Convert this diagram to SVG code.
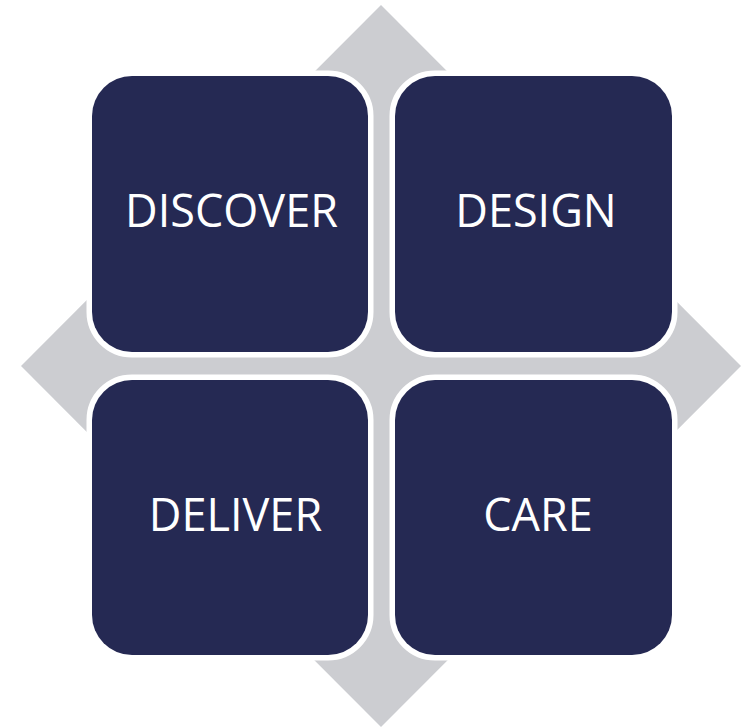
<svg xmlns="http://www.w3.org/2000/svg" width="741" height="727" viewBox="0 0 741 727">
<style>
.box{fill:#252953;stroke:#ffffff;stroke-width:11;paint-order:stroke}
.lbl{fill:#ffffff;font-family:"Open Sans","Liberation Sans",sans-serif;font-size:45px;text-anchor:middle}
</style>
<rect width="741" height="727" fill="#ffffff"/>
<g id="arrows">
<polygon points="381,5 741,366 381,727 21,366" fill="#cccdd1"/>
</g>
<g id="discover">
<rect class="box" x="92" y="76" width="276" height="276" rx="40"/>
<text class="lbl" x="231.5" y="227">DISCOVER</text>
</g>
<g id="design">
<rect class="box" x="395" y="76" width="277" height="276" rx="40"/>
<text class="lbl" x="536" y="227">DESIGN</text>
</g>
<g id="deliver">
<rect class="box" x="92" y="380" width="276" height="275" rx="40"/>
<text class="lbl" x="235.5" y="531">DELIVER</text>
</g>
<g id="care">
<rect class="box" x="395" y="380" width="277" height="275" rx="40"/>
<text class="lbl" x="538" y="531">CARE</text>
</g>
</svg>
